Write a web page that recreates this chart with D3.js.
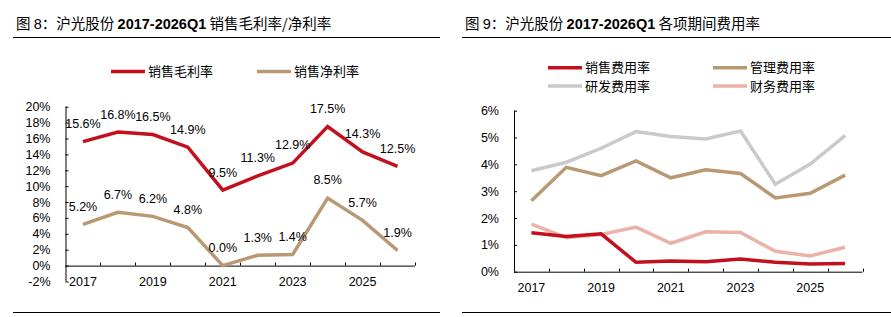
<!DOCTYPE html>
<html>
<head>
<meta charset="utf-8">
<script src="https://cdn.jsdelivr.net/npm/d3@7"></script>
<style>
  body { margin: 0; background: #fff; }
  svg text { font-family: "Liberation Sans", Arial, "Noto Sans CJK SC", sans-serif; fill: #000; }
  .cjk { font-family: "Noto Sans CJK SC", sans-serif; }
</style>
</head>
<body>
<div id="chart"></div>
<script>
// categories (2017 ... 2026Q1)
const years = ["2017", "2018", "2019", "2020", "2021", "2022", "2023", "2024", "2025", "2026Q1"];
const yearLabels = ["2017", "", "2019", "", "2021", "", "2023", "", "2025", ""];

// fig 8: margins (%)
const grossMargin = [15.6, 16.8, 16.5, 14.9, 9.5, 11.3, 12.9, 17.5, 14.3, 12.5];
const netMargin = [5.2, 6.7, 6.2, 4.8, 0.0, 1.3, 1.4, 8.5, 5.7, 1.9];
const marginTicks = [-2, 0, 2, 4, 6, 8, 10, 12, 14, 16, 18, 20];

// fig 9: expense ratios (%)
const salesExp = [1.45, 1.31, 1.41, 0.35, 0.40, 0.37, 0.47, 0.35, 0.29, 0.31];
const adminExp = [2.64, 3.89, 3.58, 4.13, 3.50, 3.80, 3.66, 2.75, 2.92, 3.60];
const rdExp = [3.76, 4.08, 4.60, 5.22, 5.04, 4.95, 5.24, 3.26, 4.01, 5.07];
const financeExp = [1.77, 1.27, 1.39, 1.66, 1.06, 1.49, 1.46, 0.76, 0.59, 0.91];
const expenseTicks = [0, 1, 2, 3, 4, 5, 6];

const colors = {
    red: "#C3101F",
    tan: "#B99874",
    gray: "#CACACA",
    pink: "#EBB2A8"
};

const W = 891, H = 317;
const svg = d3.select("#chart").append("svg")
    .attr("width", W)
    .attr("height", H);

// titles and rules
function header(x0, x1, parts) {
    const t = svg.append("text")
        .attr("x", x0 + 3)
        .attr("y", 29)
        .attr("font-size", "14.5px");
    parts.forEach(p => {
        t.append("tspan")
            .attr("class", p.cjk ? "cjk" : null)
            .attr("font-weight", p.bold ? "bold" : null)
            .text(p.text);
    });
    svg.append("line").attr("x1", x0).attr("x2", x1).attr("y1", 37.5).attr("y2", 37.5)
        .attr("stroke", "#000").attr("stroke-width", 1);
    svg.append("line").attr("x1", x0).attr("x2", x1).attr("y1", 312.5).attr("y2", 312.5)
        .attr("stroke", "#000").attr("stroke-width", 1);
}
header(13, 440, [
    { text: "图 ", cjk: true }, { text: "8" }, { text: "：沪光股份 ", cjk: true },
    { text: "2017-2026Q1", bold: true }, { text: " 销售毛利率/净利率", cjk: true }
]);
header(462, 891, [
    { text: "图 ", cjk: true }, { text: "9" }, { text: "：沪光股份 ", cjk: true },
    { text: "2017-2026Q1", bold: true }, { text: " 各项期间费用率", cjk: true }
]);

function legendItem(x, y, color, label) {
    svg.append("line")
        .attr("x1", x).attr("x2", x + 34)
        .attr("y1", y).attr("y2", y)
        .attr("stroke", color).attr("stroke-width", 3.5);
    svg.append("text")
        .attr("class", "cjk")
        .attr("x", x + 37)
        .attr("y", y)
        .attr("dy", "0.35em")
        .attr("font-size", "13px")
        .text(label);
}

//DRAW ONE PANEL
function drawPanel(opts) {
    const x = d3.scaleBand()
        .domain(years)
        .range([opts.left, opts.right]);
    const y = d3.scaleLinear()
        .domain(opts.domain)
        .range([opts.bottom, opts.top]);

    const g = svg.append("g");

    // y axis
    const yAxis = d3.axisLeft(y)
        .tickValues(opts.ticks)
        .tickSize(-3)
        .tickPadding(15)
        .tickFormat(d => d + "%");
    const yG = g.append("g")
        .attr("transform", `translate(${opts.left},0)`)
        .call(yAxis);
    yG.select(".domain").attr("d", `M0.5,${y(opts.domain[0])}V${y(opts.domain[1])}`);
    yG.selectAll("text").attr("font-size", "12.5px").attr("fill", "#000");
    yG.selectAll("line").attr("stroke", "#000");

    // x axis at zero, ticks on band edges
    const xG = g.append("g")
        .attr("transform", `translate(0,${y(0)})`);
    xG.append("line")
        .attr("x1", opts.left).attr("x2", opts.right)
        .attr("y1", 0.5).attr("y2", 0.5)
        .attr("stroke", "#000");
    xG.selectAll(".tk")
        .data(years)
        .enter()
        .append("line")
        .attr("x1", d => Math.round(x(d) + x.bandwidth()) + 0.5)
        .attr("x2", d => Math.round(x(d) + x.bandwidth()) + 0.5)
        .attr("y1", 0).attr("y2", -3)
        .attr("stroke", "#000");

    g.selectAll(".xl")
        .data(years)
        .enter()
        .append("text")
        .attr("x", d => x(d) + x.bandwidth() / 2)
        .attr("y", opts.labelY)
        .attr("dy", "0.35em")
        .attr("text-anchor", "middle")
        .attr("font-size", "12.5px")
        .text((d, i) => yearLabels[i]);

    const line = d3.line()
        .x((d, i) => x(years[i]) + x.bandwidth() / 2)
        .y(d => y(d));

    opts.series.forEach(s => {
        g.append("path")
            .datum(s.values)
            .attr("fill", "none")
            .attr("stroke", s.color)
            .attr("stroke-width", 3.5)
            .attr("stroke-linejoin", "miter")
            .attr("d", line);
    });

    opts.series.filter(s => s.labels).forEach(s => {
        g.selectAll(".dl")
            .data(s.values)
            .enter()
            .append("text")
            .attr("x", (d, i) => x(years[i]) + x.bandwidth() / 2)
            .attr("y", d => y(d) - 18)
            .attr("dy", "0.35em")
            .attr("text-anchor", "middle")
            .attr("font-size", "12.5px")
            .text(d => d.toFixed(1) + "%");
    });
}

drawPanel({
    left: 65.5, right: 415, top: 106.7, bottom: 281.5,
    domain: [-2, 20], ticks: marginTicks, labelY: 282,
    series: [
        { values: grossMargin, color: colors.red, labels: true },
        { values: netMargin, color: colors.tan, labels: true }
    ]
});
legendItem(111, 71.5, colors.red, "销售毛利率");
legendItem(257, 71.5, colors.tan, "销售净利率");

drawPanel({
    left: 514, right: 862.5, top: 110.7, bottom: 271.7,
    domain: [0, 6], ticks: expenseTicks, labelY: 287.5,
    series: [
        { values: rdExp, color: colors.gray },
        { values: adminExp, color: colors.tan },
        { values: financeExp, color: colors.pink },
        { values: salesExp, color: colors.red }
    ]
});
legendItem(548, 67.7, colors.red, "销售费用率");
legendItem(713, 67.7, colors.tan, "管理费用率");
legendItem(548, 86, colors.gray, "研发费用率");
legendItem(713, 86, colors.pink, "财务费用率");
</script>
</body>
</html>
